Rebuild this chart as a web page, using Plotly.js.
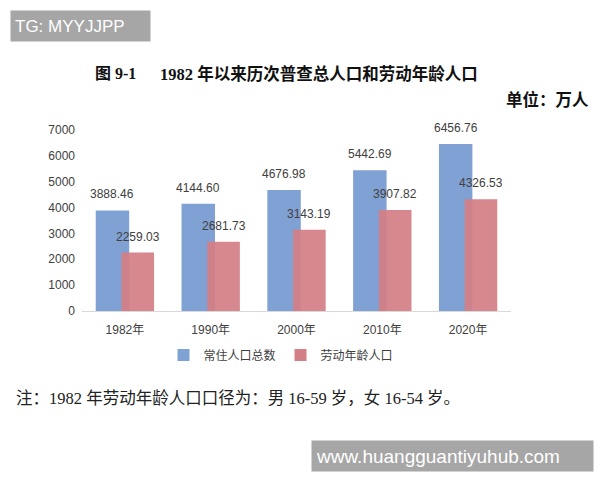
<!DOCTYPE html>
<html>
<head>
<meta charset="utf-8">
<script src="https://cdn.plot.ly/plotly-3.0.1.min.js"></script>
<style>html,body{margin:0;padding:0;background:#fff;}#chart{width:600px;height:480px;}</style>
</head>
<body>
<div id="chart"></div>
<script>
// ---- data ----
const categories = ["1982年", "1990年", "2000年", "2010年", "2020年"];
const totalPop = [3888.46, 4144.60, 4676.98, 5442.69, 6456.76];
const laborPop = [2259.03, 2681.73, 3143.19, 3907.82, 4326.53];
const seriesNames = ["常住人口总数", "劳动年龄人口"];
const yTicks = [0, 1000, 2000, 3000, 4000, 5000, 6000, 7000];
const titleFig = "图 9-1";
const titleMain = "1982 年以来历次普查总人口和劳动年龄人口";
const unitText = "单位：万人";
const noteText = "注：1982 年劳动年龄人口口径为：男 16-59 岁，女 16-54 岁。";
const mark1 = "TG: MYYJJPP";
const mark2 = "www.huangguantiyuhub.com";

// ---- layout geometry ----
const W = 600, H = 480;
const M = {l: 82, r: 89, t: 130, b: 169};
const pw = W - M.l - M.r, ph = H - M.t - M.b;
const px = x => (x - M.l) / pw;
const py = y => (H - M.b - y) / ph;

const blueOff = -0.34, blueW = 0.39;
const redOff = -0.04, redW = 0.38;
const blue = "#80a1d3", red = "#d47e85";
const serifCJK = "'Liberation Serif', 'Noto Sans CJK SC', serif";
const sansCJK = "'Liberation Sans', 'Noto Sans CJK SC', sans-serif";

const traces = [
  {type: "bar", name: seriesNames[0], x: categories, y: totalPop,
   offset: blueOff, width: blueW, marker: {color: blue}, hoverinfo: "skip"},
  {type: "bar", name: seriesNames[1], x: categories, y: laborPop,
   offset: redOff, width: redW, marker: {color: red, opacity: 0.93}, hoverinfo: "skip"}
];

const annotations = [];
totalPop.forEach((v, i) => annotations.push({
  xref: "x", yref: "y", x: i + blueOff + blueW / 2, y: v, yanchor: "bottom", yshift: 7,
  text: v.toFixed(2), showarrow: false, font: {family: sansCJK, size: 12, color: "#404040"}
}));
laborPop.forEach((v, i) => annotations.push({
  xref: "x", yref: "y", x: i + redOff + redW / 2, y: v, yanchor: "bottom", yshift: 7,
  text: v.toFixed(2), showarrow: false, font: {family: sansCJK, size: 12, color: "#404040"}
}));
annotations.push(
  {xref: "paper", yref: "paper", x: px(93), y: py(74), xanchor: "left", yanchor: "middle",
   text: "<b>" + titleFig + "</b>", showarrow: false, font: {family: serifCJK, size: 16, color: "#111"}},
  {xref: "paper", yref: "paper", x: px(158), y: py(74), xanchor: "left", yanchor: "middle",
   text: "<b>" + titleMain + "</b>", showarrow: false, font: {family: serifCJK, size: 16.5, color: "#111"}},
  {xref: "paper", yref: "paper", x: px(591), y: py(100), xanchor: "right", yanchor: "middle",
   text: "<b>" + unitText + "</b>", showarrow: false, font: {family: serifCJK, size: 16.5, color: "#111"}},
  {xref: "paper", yref: "paper", x: px(14), y: py(398), xanchor: "left", yanchor: "middle",
   text: noteText, showarrow: false, font: {family: serifCJK, size: 16.5, color: "#222"}},
  {xref: "paper", yref: "paper", x: px(10), y: py(10), xanchor: "left", yanchor: "top",
   text: mark1, showarrow: false, width: 131, height: 22, align: "left", borderpad: 4,
   bgcolor: "#a6a6a6", font: {family: "'Liberation Sans', Arial, sans-serif", size: 17, color: "#fff"}},
  {xref: "paper", yref: "paper", x: px(311), y: py(440), xanchor: "left", yanchor: "top",
   text: mark2, showarrow: false, width: 273, height: 22, align: "left", borderpad: 4,
   bgcolor: "#a6a6a6", font: {family: "'Liberation Sans', Arial, sans-serif", size: 19, color: "#fff"}}
);

const layout = {
  width: W, height: H,
  margin: M,
  paper_bgcolor: "#fff", plot_bgcolor: "#fff",
  barmode: "overlay",
  showlegend: true,
  legend: {orientation: "h", x: px(281), xanchor: "center", y: py(355), yanchor: "middle",
           font: {family: sansCJK, size: 12, color: "#404040"}, itemwidth: 30, tracegroupgap: 0},
  xaxis: {type: "category", showgrid: false, zeroline: false, showline: true, linecolor: "#d9d9d9",
          ticks: "", ticklabelstandoff: 8, tickfont: {family: sansCJK, size: 12, color: "#404040"},
          fixedrange: true},
  yaxis: {range: [0, 7000], tickvals: yTicks, ticktext: yTicks.map(String), showgrid: false,
          zeroline: false, showline: false, ticks: "", ticklabelstandoff: 6,
          tickfont: {family: sansCJK, size: 12, color: "#404040"}, fixedrange: true},
  annotations: annotations
};

Plotly.newPlot("chart", traces, layout, {displayModeBar: false, staticPlot: true});
</script>
</body>
</html>
